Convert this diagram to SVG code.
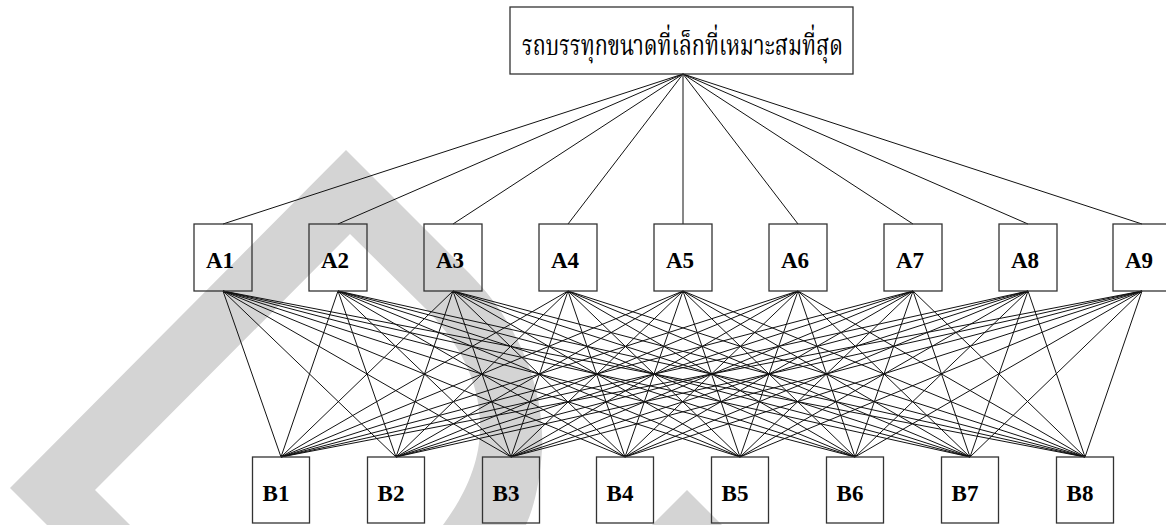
<svg xmlns="http://www.w3.org/2000/svg" width="1166" height="525" viewBox="0 0 1166 525">
<style>
.bg{fill:#ffffff}
.wm{fill:#d4d4d4;stroke:none}
.box{fill:none;stroke:#333333;stroke-width:1.3}
.lbl{font-family:"Liberation Serif","Times New Roman",serif;font-weight:bold;font-size:23px;fill:#000000;text-anchor:middle}
.title{font-family:"Noto Serif Thai","Noto Sans Thai","Liberation Serif","DejaVu Serif",serif;font-size:29px;fill:#000000}
.conn line{stroke:#111111;stroke-width:1}
</style>
<rect class="bg" x="0" y="0" width="1166" height="525"/>
<g id="watermark">
<path class="wm" d="M47,525 L10,488 L346,150 L470,274 C520,325 545,390 542,450 C540,480 535,505 526,525 L443,525 C465,495 482,460 480,420 C478,380 460,345 430,313 L350,234 L95,490 L130,525 Z"/>
<path class="wm" d="M652,525 L687,490 L722,525 Z"/>
</g>
<g id="connectors" class="conn">
<line x1="683" y1="74" x2="223" y2="224"/>
<line x1="683" y1="74" x2="338" y2="224"/>
<line x1="683" y1="74" x2="453" y2="224"/>
<line x1="683" y1="74" x2="568" y2="224"/>
<line x1="683" y1="74" x2="683" y2="224"/>
<line x1="683" y1="74" x2="798" y2="224"/>
<line x1="683" y1="74" x2="913" y2="224"/>
<line x1="683" y1="74" x2="1028" y2="224"/>
<line x1="683" y1="74" x2="1142" y2="224"/>
<line x1="223" y1="291" x2="281" y2="457"/><line x1="223" y1="291" x2="396" y2="457"/><line x1="223" y1="291" x2="511" y2="457"/><line x1="223" y1="291" x2="625" y2="457"/><line x1="223" y1="291" x2="740" y2="457"/><line x1="223" y1="291" x2="855" y2="457"/><line x1="223" y1="291" x2="970" y2="457"/><line x1="223" y1="291" x2="1085" y2="457"/>
<line x1="338" y1="291" x2="281" y2="457"/><line x1="338" y1="291" x2="396" y2="457"/><line x1="338" y1="291" x2="511" y2="457"/><line x1="338" y1="291" x2="625" y2="457"/><line x1="338" y1="291" x2="740" y2="457"/><line x1="338" y1="291" x2="855" y2="457"/><line x1="338" y1="291" x2="970" y2="457"/><line x1="338" y1="291" x2="1085" y2="457"/>
<line x1="453" y1="291" x2="281" y2="457"/><line x1="453" y1="291" x2="396" y2="457"/><line x1="453" y1="291" x2="511" y2="457"/><line x1="453" y1="291" x2="625" y2="457"/><line x1="453" y1="291" x2="740" y2="457"/><line x1="453" y1="291" x2="855" y2="457"/><line x1="453" y1="291" x2="970" y2="457"/><line x1="453" y1="291" x2="1085" y2="457"/>
<line x1="568" y1="291" x2="281" y2="457"/><line x1="568" y1="291" x2="396" y2="457"/><line x1="568" y1="291" x2="511" y2="457"/><line x1="568" y1="291" x2="625" y2="457"/><line x1="568" y1="291" x2="740" y2="457"/><line x1="568" y1="291" x2="855" y2="457"/><line x1="568" y1="291" x2="970" y2="457"/><line x1="568" y1="291" x2="1085" y2="457"/>
<line x1="683" y1="291" x2="281" y2="457"/><line x1="683" y1="291" x2="396" y2="457"/><line x1="683" y1="291" x2="511" y2="457"/><line x1="683" y1="291" x2="625" y2="457"/><line x1="683" y1="291" x2="740" y2="457"/><line x1="683" y1="291" x2="855" y2="457"/><line x1="683" y1="291" x2="970" y2="457"/><line x1="683" y1="291" x2="1085" y2="457"/>
<line x1="798" y1="291" x2="281" y2="457"/><line x1="798" y1="291" x2="396" y2="457"/><line x1="798" y1="291" x2="511" y2="457"/><line x1="798" y1="291" x2="625" y2="457"/><line x1="798" y1="291" x2="740" y2="457"/><line x1="798" y1="291" x2="855" y2="457"/><line x1="798" y1="291" x2="970" y2="457"/><line x1="798" y1="291" x2="1085" y2="457"/>
<line x1="913" y1="291" x2="281" y2="457"/><line x1="913" y1="291" x2="396" y2="457"/><line x1="913" y1="291" x2="511" y2="457"/><line x1="913" y1="291" x2="625" y2="457"/><line x1="913" y1="291" x2="740" y2="457"/><line x1="913" y1="291" x2="855" y2="457"/><line x1="913" y1="291" x2="970" y2="457"/><line x1="913" y1="291" x2="1085" y2="457"/>
<line x1="1028" y1="291" x2="281" y2="457"/><line x1="1028" y1="291" x2="396" y2="457"/><line x1="1028" y1="291" x2="511" y2="457"/><line x1="1028" y1="291" x2="625" y2="457"/><line x1="1028" y1="291" x2="740" y2="457"/><line x1="1028" y1="291" x2="855" y2="457"/><line x1="1028" y1="291" x2="970" y2="457"/><line x1="1028" y1="291" x2="1085" y2="457"/>
<line x1="1142" y1="291" x2="281" y2="457"/><line x1="1142" y1="291" x2="396" y2="457"/><line x1="1142" y1="291" x2="511" y2="457"/><line x1="1142" y1="291" x2="625" y2="457"/><line x1="1142" y1="291" x2="740" y2="457"/><line x1="1142" y1="291" x2="855" y2="457"/><line x1="1142" y1="291" x2="970" y2="457"/><line x1="1142" y1="291" x2="1085" y2="457"/>
</g>
<g id="goal">
<rect class="box" x="510" y="7" width="343" height="67"/>
<text class="title" x="522" y="55" textLength="321" lengthAdjust="spacingAndGlyphs">รถบรรทุกขนาดที่เล็กที่เหมาะสมที่สุด</text>
</g>
<g id="A1"><rect class="box" x="194" y="224" width="58" height="67"/><text class="lbl" x="220" y="268">A1</text></g>
<g id="A2"><rect class="box" x="309" y="224" width="58" height="67"/><text class="lbl" x="335" y="268">A2</text></g>
<g id="A3"><rect class="box" x="424" y="224" width="58" height="67"/><text class="lbl" x="450" y="268">A3</text></g>
<g id="A4"><rect class="box" x="539" y="224" width="58" height="67"/><text class="lbl" x="565" y="268">A4</text></g>
<g id="A5"><rect class="box" x="654" y="224" width="58" height="67"/><text class="lbl" x="680" y="268">A5</text></g>
<g id="A6"><rect class="box" x="769" y="224" width="58" height="67"/><text class="lbl" x="795" y="268">A6</text></g>
<g id="A7"><rect class="box" x="884" y="224" width="58" height="67"/><text class="lbl" x="910" y="268">A7</text></g>
<g id="A8"><rect class="box" x="999" y="224" width="58" height="67"/><text class="lbl" x="1025" y="268">A8</text></g>
<g id="A9"><rect class="box" x="1113" y="224" width="58" height="67"/><text class="lbl" x="1139" y="268">A9</text></g>
<g id="B1"><rect class="box" x="252.5" y="457" width="57" height="66"/><text class="lbl" x="276" y="501">B1</text></g>
<g id="B2"><rect class="box" x="367.5" y="457" width="57" height="66"/><text class="lbl" x="391" y="501">B2</text></g>
<g id="B3"><rect class="box" x="482.5" y="457" width="57" height="66"/><text class="lbl" x="506" y="501">B3</text></g>
<g id="B4"><rect class="box" x="596.5" y="457" width="57" height="66"/><text class="lbl" x="620" y="501">B4</text></g>
<g id="B5"><rect class="box" x="711.5" y="457" width="57" height="66"/><text class="lbl" x="735" y="501">B5</text></g>
<g id="B6"><rect class="box" x="826.5" y="457" width="57" height="66"/><text class="lbl" x="850" y="501">B6</text></g>
<g id="B7"><rect class="box" x="941.5" y="457" width="57" height="66"/><text class="lbl" x="965" y="501">B7</text></g>
<g id="B8"><rect class="box" x="1056.5" y="457" width="57" height="66"/><text class="lbl" x="1080" y="501">B8</text></g>
</svg>
